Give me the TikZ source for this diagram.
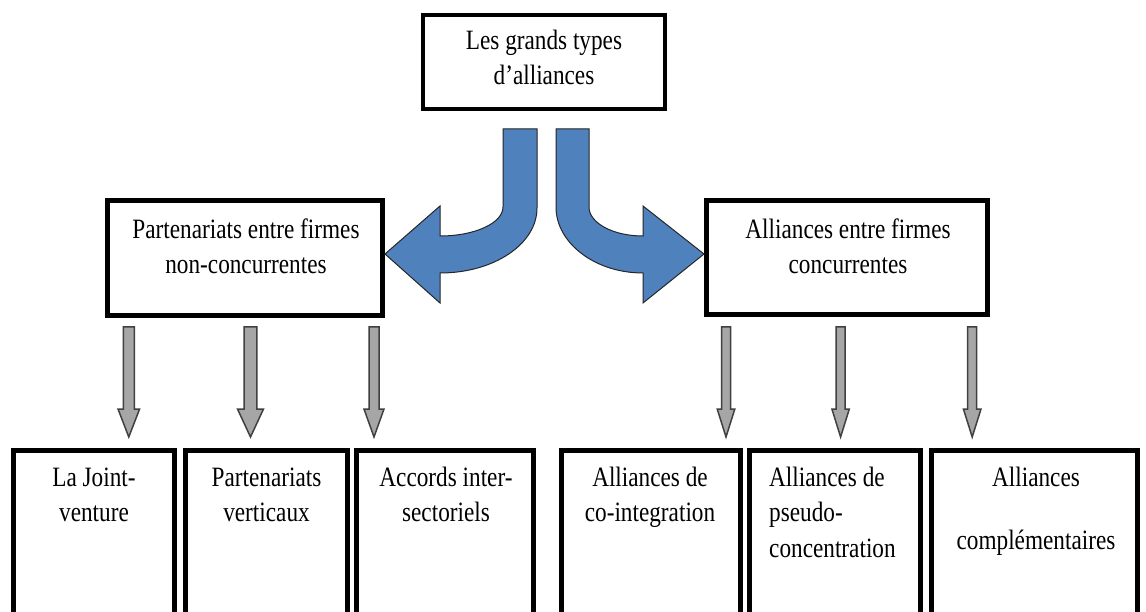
\documentclass[tikz,border=0pt]{standalone}
\usepackage{fontspec}
\setmainfont[FakeStretch=0.83]{Liberation Serif}
\begin{document}
\begin{tikzpicture}[x=1pt,y=-1pt,
  box/.style={draw=black,line width=5pt,fill=white,rectangle,inner sep=0pt},
  txt/.style={inner sep=0pt,anchor=north,align=center,font=\fontsize{28}{35.5}\selectfont},
  bluearrow/.style={fill={rgb,255:red,79;green,129;blue,189},draw=black!85,line width=1pt,line join=miter},
  greyarrow/.style={fill={rgb,255:red,166;green,166;blue,166},draw={rgb,255:red,64;green,64;blue,64},line width=1.5pt,line join=miter},
  pics/garrow/.style 2 args={code={
    \draw[greyarrow] (-#1,0) -- (#1,0) -- (#1,82) -- (#2,82) -- (0,110) -- (-#2,82) -- (-#1,82) -- cycle;}}
]
\clip (0,0) rectangle (1146,612);
\fill[white] (0,0) rectangle (1146,612);

% top box
\node[box,line width=4pt,minimum width=242pt,minimum height=94pt] (top) at (544,62) {};
\node[txt] (ttop) at (544,24.2) {\strut Les grands types\\\strut d’alliances};

% middle boxes
\node[box,minimum width=275pt,minimum height=115pt] (midL) at (245,258) {};
\node[txt] (tmidL) at (246,213.2) {\strut Partenariats entre firmes\\\strut non-concurrentes};
\node[box,minimum width=281pt,minimum height=114pt] (midR) at (847,257.5) {};
\node[txt] (tmidR) at (848,213.2) {\strut Alliances entre firmes\\\strut concurrentes};

% blue curved arrows
\draw[bluearrow] (503,129) -- (537,129) -- (537,208)
  .. controls (537,244) and (494,273) .. (440,273) -- (440,303) -- (midL.east |- 0,254)
  -- (440,206) -- (440,236) .. controls (475,236) and (503,223) .. (503,207) -- cycle;
\draw[bluearrow] (556,129) -- (589,129) -- (589,207)
  .. controls (589,223) and (613,236) .. (643,236) -- (643,206) -- (midR.west |- 0,254)
  -- (643,303) -- (643,273) .. controls (595,273) and (556,243) .. (556,207) -- cycle;

% bottom boxes
\node[box,anchor=north,minimum width=161pt,minimum height=300pt] (b1) at (94,447.5) {};
\node[box,anchor=north,minimum width=162pt,minimum height=300pt] (b2) at (266.5,447.5) {};
\node[box,anchor=north,minimum width=177pt,minimum height=300pt] (b3) at (445,447.5) {};
\node[box,anchor=north,minimum width=179pt,minimum height=300pt] (b4) at (651,447.5) {};
\node[box,anchor=north,minimum width=171pt,minimum height=300pt] (b5) at (835,447.5) {};
\node[box,anchor=north,minimum width=206pt,minimum height=300pt] (b6) at (1034.5,447.5) {};

\node[txt] (t1) at (94,461.2) {\strut La Joint-\\\strut venture};
\node[txt] (t2) at (266.5,461.2) {\strut Partenariats\\\strut verticaux};
\node[txt] (t3) at (446,461.2) {\strut Accords inter-\\\strut sectoriels};
\node[txt] (t4) at (650,461.2) {\strut Alliances de\\\strut co-integration};
\node[txt,anchor=north west,align=left] (t5) at (769,461.2) {\strut Alliances de\\\strut pseudo-\\\strut concentration};
\node[txt] (t6) at (1036,461.2) {\strut Alliances\\[27.5pt]\strut complémentaires};

% grey arrows
\path (128.8,327) pic {garrow={5.5}{10.8}};
\path (250.5,327) pic {garrow={6.3}{13}};
\path (374,327) pic {garrow={5}{10}};
\path (726,327) pic {garrow={4.5}{8.8}};
\path (840.6,327) pic {garrow={4.5}{8.7}};
\path (972.2,327) pic {garrow={4.5}{8.8}};
\end{tikzpicture}
\end{document}
